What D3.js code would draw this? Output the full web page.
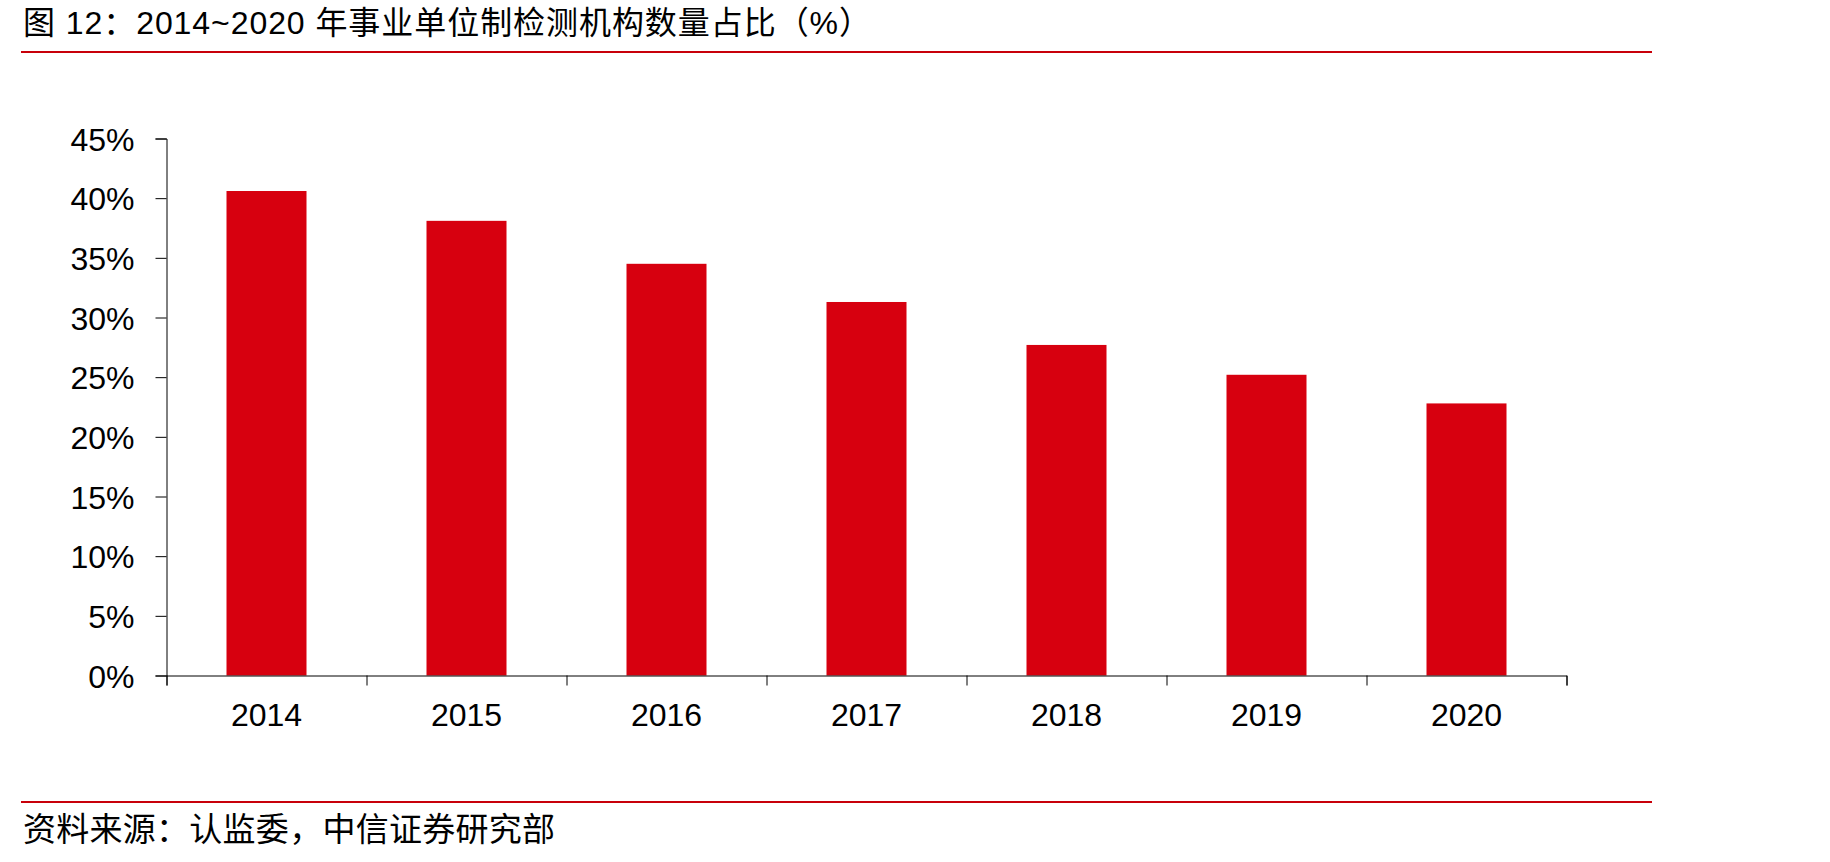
<!DOCTYPE html>
<html>
<head>
<meta charset="utf-8">
<script src="https://cdn.jsdelivr.net/npm/d3@7"></script>
<style>
  html, body { margin: 0; padding: 0; background: #fff; }
  svg text { font-family: "Liberation Sans", Arial, "Noto Sans CJK SC", sans-serif; fill: #000; }
</style>
</head>
<body>
<div class="plot"></div>
<script>
// data
const years = ['2014', '2015', '2016', '2017', '2018', '2019', '2020'];
const shares = [40.6, 38.1, 34.5, 31.3, 27.7, 25.2, 22.8];
const yTicks = [0, 5, 10, 15, 20, 25, 30, 35, 40, 45];

const titleText = '图 12：2014~2020 年事业单位制检测机构数量占比（%）';
const sourceText = '资料来源：认监委，中信证券研究部';

const w = 1830, h = 862;
const svg = d3.select('.plot').append('svg').attr('width', w).attr('height', h);

// plot area
const plotLeft = 166.5, plotRight = 1566.5, plotTop = 138.5, plotBottom = 675.5;

//Title and rules
svg.append('text')
	.attr('x', 23).attr('y', 34)
	.attr('textLength', 848).attr('lengthAdjust', 'spacing')
	.style('font-size', '32px')
	.text(titleText);
svg.append('line')
	.attr('x1', 21).attr('x2', 1652).attr('y1', 52).attr('y2', 52)
	.style('stroke', '#c8000a').style('stroke-width', '2px');
svg.append('line')
	.attr('x1', 21).attr('x2', 1652).attr('y1', 802).attr('y2', 802)
	.style('stroke', '#c8000a').style('stroke-width', '2px');
svg.append('text')
	.attr('x', 23).attr('y', 841)
	.attr('textLength', 532).attr('lengthAdjust', 'spacing')
	.style('font-size', '33px')
	.text(sourceText);

//Scales
const x = d3.scaleBand().domain(years).range([plotLeft, plotRight])
	.paddingInner(0.6).paddingOuter(0.3);
const xEdge = d3.scaleLinear().domain([0, years.length]).range([plotLeft, plotRight]);
const y = d3.scaleLinear().domain([0, 45]).range([plotBottom, plotTop]);

//Bars
svg.selectAll('.bar')
	.data(years.map((d, i) => ({year: d, value: shares[i]})))
	.enter()
	.append('rect')
	.attr('class', 'bar')
	.attr('x', d => x(d.year))
	.attr('width', x.bandwidth())
	.attr('y', d => y(d.value))
	.attr('height', d => y(0) - y(d.value))
	.style('fill', '#d7000f');

//Y axis
const yAxis = svg.append('g')
	.attr('transform', `translate(${plotLeft},0)`)
	.call(d3.axisLeft(y).tickValues(yTicks).tickSize(11).tickPadding(21)
		.tickFormat(d => d + '%'));
yAxis.selectAll('text').style('font-size', '32px').attr('dy', '0.36em');

//X axis: ticks on category edges, labels in middle
const xTicks = svg.append('g')
	.attr('transform', `translate(0,${plotBottom})`)
	.call(d3.axisBottom(xEdge).tickValues(d3.range(years.length + 1)).tickSize(10).tickFormat(''));
const xLabels = svg.append('g')
	.attr('transform', `translate(0,${plotBottom})`)
	.call(d3.axisBottom(x).tickSize(0).tickPadding(28));
xLabels.select('.domain').remove();
xLabels.selectAll('text').style('font-size', '32px');

svg.selectAll('.domain, .tick line').style('stroke', '#000').style('stroke-width', '1px');
</script>
</body>
</html>
